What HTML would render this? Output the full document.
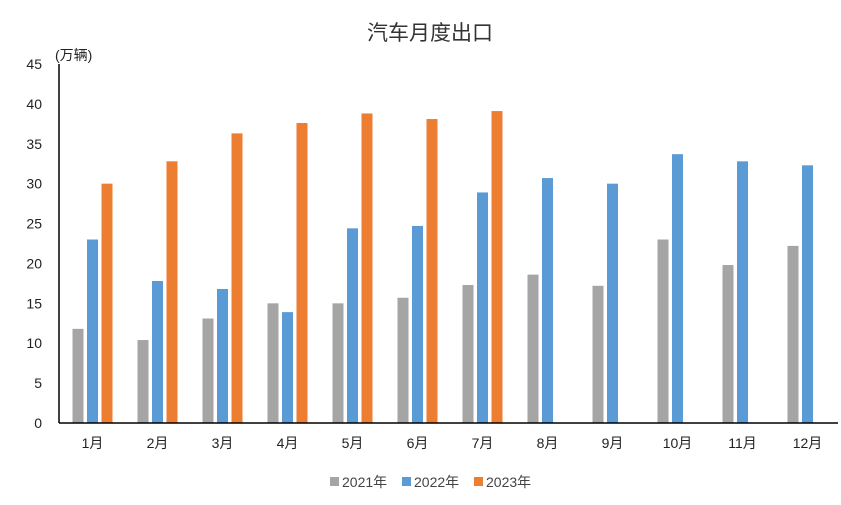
<!DOCTYPE html>
<html><head><meta charset="utf-8">
<style>
body{margin:0;background:#fff;}
svg{display:block;font-family:"Liberation Sans","Noto Sans CJK SC",sans-serif;}
</style></head>
<body>
<svg id="chart" width="841" height="505">
<text x="430" y="40" text-anchor="middle" font-size="21" fill="#333">汽车月度出口</text>
<text x="55" y="60" font-size="14" fill="#222">(万辆)</text>
<g id="yticks"></g>
<g id="bars"></g>
<g id="xlabels"></g>
<line x1="59" y1="423" x2="838" y2="423" stroke="#000" stroke-width="1.5"/>
<line x1="59" y1="64" x2="59" y2="423" stroke="#000" stroke-width="1.5"/>
<g id="legend"></g>
</svg>
<script>
const categories=["1月","2月","3月","4月","5月","6月","7月","8月","9月","10月","11月","12月"];
const series2021=[11.8,10.4,13.1,15.0,15.0,15.7,17.3,18.6,17.2,23.0,19.8,22.2];
const series2022=[23.0,17.8,16.8,13.9,24.4,24.7,28.9,30.7,30.0,33.7,32.8,32.3];
const series2023=[30.0,32.8,36.3,37.6,38.8,38.1,39.1,null,null,null,null,null];
const seriesNames=["2021年","2022年","2023年"];
const yTicks=[0,5,10,15,20,25,30,35,40,45];
const NS="http://www.w3.org/2000/svg";
const colors=["#a5a5a5","#5b9bd5","#ed7d31"];
const y0=423,yTop=64,yMax=45;
const yScale=v=>y0-(v/yMax)*(y0-yTop);
const xLeft=59,band=65;
const xCenter=i=>xLeft+band*(i+0.5);
function mk(tag,attrs,parent){const e=document.createElementNS(NS,tag);for(const k in attrs)e.setAttribute(k,attrs[k]);parent.appendChild(e);return e;}
const yt=document.getElementById('yticks');
yTicks.forEach(t=>{
  const e=mk('text',{x:42,y:yScale(t)+5,'text-anchor':'end','font-size':14,fill:'#222'},yt);
  
  
  e.textContent=t;
});
const bg=document.getElementById('bars');
const all=[series2021,series2022,series2023];
const offs=[-13.5,1,15.5];
all.forEach((s,si)=>{
  s.forEach((v,i)=>{
    if(v==null)return;
    const r=mk('rect',{x:xCenter(i)+offs[si]-5.5,y:yScale(v),width:11,height:y0-yScale(v),fill:colors[si]},bg);
    
    
  });
});
const xl=document.getElementById('xlabels');
categories.forEach((c,i)=>{
  const e=mk('text',{x:xCenter(i)+1,y:448,'text-anchor':'middle','font-size':14,fill:'#222'},xl);
  
  
  e.textContent=c;
});
const lg=document.getElementById('legend');
const lx=[330,402,474];
seriesNames.forEach((n,i)=>{
  const r=mk('rect',{x:lx[i],y:477,width:9,height:9,fill:colors[i]},lg);
  
  
  const t=mk('text',{x:lx[i]+12,y:487,'font-size':14,fill:'#444'},lg);
  
  
  t.textContent=n;
});
</script>
</body></html>
